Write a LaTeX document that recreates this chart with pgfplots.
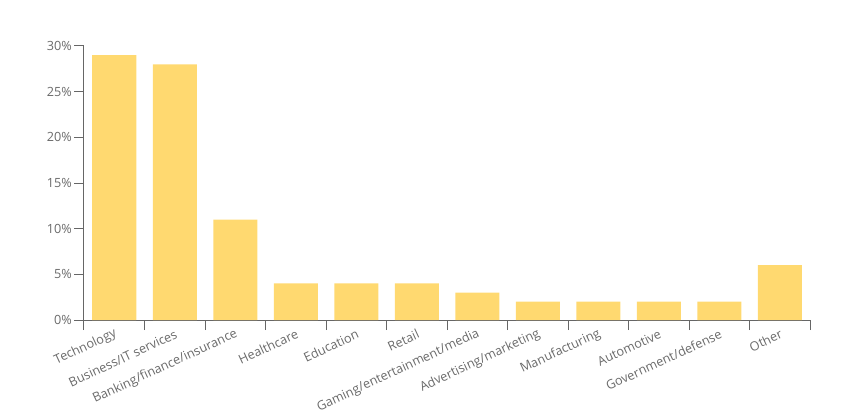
\documentclass[border=0pt]{standalone}
\usepackage{fontspec}
\setmainfont{Open Sans}
\usepackage{pgfplots}
\pgfplotsset{compat=1.18}
\definecolor{barfill}{HTML}{FFD970}
\definecolor{axisgray}{HTML}{666666}
\definecolor{labelgray}{HTML}{6A6A6A}

\begin{document}
\begin{tikzpicture}[x=0.75pt,y=0.75pt]
% page frame, 855 x 418 px; axis box starts at (84px, 320px from top)
\path[use as bounding box] (-84,-98) rectangle (771,320);
\begin{axis}[
  at={(0,0)}, anchor=south west,
  scale only axis, width=544.5pt, height=205.5pt,
  xmin=-0.5, xmax=11.5, ymin=0, ymax=30,
  axis x line*=bottom, axis y line*=left,
  axis line style={axisgray, line width=0.75pt},
  tick style={draw=axisgray, line width=0.75pt},
  tick align=outside,
  % labels sit on major ticks of zero length; the visible marks are minor ticks
  major tick length=0pt,
  minor tick length=7.5pt,
  ytick={0,5,10,15,20,25,30},
  minor ytick={0,5,10,15,20,25,30},
  yticklabel={\pgfmathprintnumber{\tick}\%},
  /pgf/number format/assume math mode=true,
  xtick={0,...,11},
  xticklabels={Technology, Business/IT services, Banking/finance/insurance, Healthcare, Education, Retail, Gaming/entertainment/media, Advertising/marketing, Manufacturing, Automotive, Government/defense, Other},
  minor xtick={-0.5,0.5,...,11.5},
  x tick label style={rotate=25, anchor=east, font=\fontsize{9.5}{11}\selectfont, text=labelgray, inner sep=0pt, yshift=-9.5pt, xshift=-3pt},
  y tick label style={font=\fontsize{9.5}{11}\selectfont, text=labelgray, inner sep=1pt, xshift=-8pt},
  ybar, bar width=33pt,
]
\addplot[fill=barfill, draw=none] coordinates {
  (0,29) (1,28) (2,11) (3,4) (4,4) (5,4) (6,3) (7,2) (8,2) (9,2) (10,2) (11,6)
};
\end{axis}
\end{tikzpicture}
\end{document}
